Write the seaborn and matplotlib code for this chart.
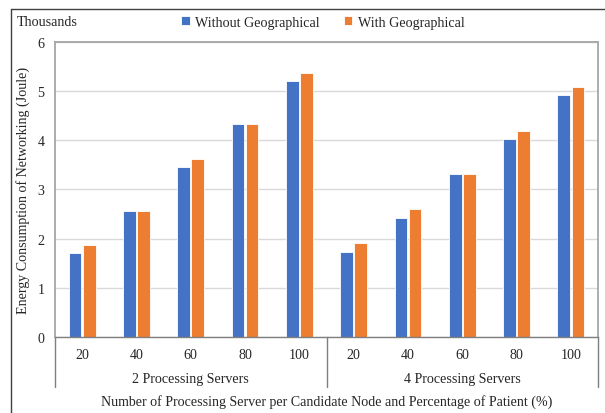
import numpy as np
import pandas as pd
import matplotlib
matplotlib.use('Agg')
import matplotlib.pyplot as plt
import matplotlib.transforms as mtransforms
from matplotlib.lines import Line2D
import seaborn as sns

# --- data (values in thousands of Joule) ---
groups = ['2 Processing Servers', '4 Processing Servers']
patients = ['20', '40', '60', '80', '100']
series = ['Without Geographical', 'With Geographical']
without_geo = [1.72, 2.56, 3.46, 4.32, 5.20, 1.74, 2.43, 3.32, 4.03, 4.91]
with_geo = [1.88, 2.56, 3.62, 4.32, 5.36, 1.91, 2.60, 3.32, 4.18, 5.07]
colors = ['#4472C4', '#ED7D31']
y_ticks = [0, 1, 2, 3, 4, 5, 6]

cats = [f'{g[0]}-{p}' for g in groups for p in patients]
df = pd.DataFrame({
    'cat': cats * 2,
    'value': without_geo + with_geo,
    'series': [series[0]] * len(cats) + [series[1]] * len(cats),
})

FS = 10.1
sns.set_theme(style='white')
plt.rcParams['font.family'] = ['Liberation Serif', 'DejaVu Serif']
plt.rcParams['font.size'] = FS
plt.rcParams['text.color'] = '#262626'

W, H = 605, 414
fig = plt.figure(figsize=(W / 100, H / 100), dpi=100)
ax = fig.add_axes([55 / W, 1 - 338.3 / H, 543 / W, 295.8 / H])

sns.barplot(data=df, x='cat', y='value', hue='series', order=cats,
            hue_order=series, palette=colors, saturation=1, width=0.52,
            gap=0.1, edgecolor='white', linewidth=0.6, ax=ax)

# axes styling
ax.set_ylim(0, 6)
ax.set_yticks(y_ticks)
ax.yaxis.grid(True, color='#d9d9d9', lw=1)
ax.set_axisbelow(True)
ax.set_xticks(range(len(cats)))
ax.set_xticklabels(patients * len(groups))
ax.tick_params(axis='x', length=0, pad=8, labelsize=FS, labelcolor='#262626')
ax.tick_params(axis='y', length=0, pad=7.5, labelsize=FS, labelcolor='#262626')
ax.set_xlabel('')
ax.set_ylabel('')
for side in ['top', 'right', 'left']:
    ax.spines[side].set_color('#a6a6a6')
    ax.spines[side].set_linewidth(1.3)
ax.spines['bottom'].set_color('#7f7f7f')
ax.spines['bottom'].set_linewidth(1)

# two-level category axis
trans = mtransforms.blended_transform_factory(ax.transData, ax.transAxes)
ax_h = 295.8
n = len(patients)
for k in range(len(groups) + 1):
    x = k * n - 0.5
    ax.plot([x, x], [0, -(387.7 - 338.3) / ax_h], transform=trans,
            color='#7f7f7f', lw=1, clip_on=False)
ax.set_xlim(-0.5, len(cats) - 0.5)
for i, g in enumerate(groups):
    ax.text(i * n + (n - 1) / 2, -(380 - 338.3) / ax_h, g, transform=trans,
            ha='center', va='center')
ax.text(0.5, -(401.7 - 338.3) / ax_h,
        'Number of Processing Server per Candidate Node and Percentage of Patient (%)',
        transform=ax.transAxes, ha='center', va='center')

# y title and units
fig.text(23 / W, 1 - 190 / H, 'Energy Consumption of Networking (Joule)',
         rotation=90, ha='center', va='center')
fig.text(17 / W, 1 - 23 / H, 'Thousands', ha='left', va='center')

# legend on top
handles, labels = ax.get_legend_handles_labels()
ax.get_legend().remove()
fig.legend(handles, labels, loc='center', bbox_to_anchor=(323 / W, 1 - 23 / H),
           ncol=2, frameon=False, handlelength=0.6, handleheight=0.6,
           handletextpad=0.4, columnspacing=1.7, fontsize=FS)

# chart-area border (top and left visible)
fig.add_artist(Line2D([10.7 / W, 1], [1 - 9.5 / H, 1 - 9.5 / H], color='#404040', lw=1))
fig.add_artist(Line2D([10.7 / W, 10.7 / W], [0, 1 - 9.5 / H], color='#404040', lw=1))

fig.savefig('out.png', dpi=100)
